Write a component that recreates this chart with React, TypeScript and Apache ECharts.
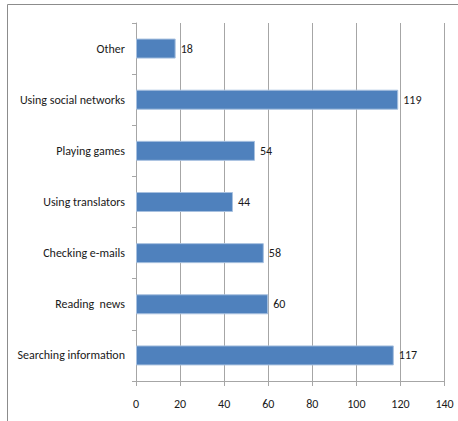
import React, { useEffect, useRef } from "react";
import * as echarts from "echarts";

const categories = [
  "Searching information",
  "Reading  news",
  "Checking e-mails",
  "Using translators",
  "Playing games",
  "Using social networks",
  "Other",
];
const values = [117, 60, 58, 44, 54, 119, 18];
const xTicks = { min: 0, max: 140, interval: 20 };

const FONT = "Carlito, Lato, 'Open Sans', sans-serif";

export default function App() {
  const ref = useRef<HTMLDivElement>(null);
  useEffect(() => {
    document.body.style.margin = "0";
    const chart = echarts.init(ref.current!, undefined, { renderer: "svg" });
    chart.setOption({
      animation: false,
      backgroundColor: "#ffffff",
      textStyle: { fontFamily: FONT },
      graphic: [
        { type: "line", shape: { x1: 7.5, y1: 4.5, x2: 458, y2: 4.5 }, style: { stroke: "#8c8c8c", lineWidth: 1 } },
        { type: "line", shape: { x1: 7.5, y1: 4.5, x2: 7.5, y2: 421 }, style: { stroke: "#8c8c8c", lineWidth: 1 } },
      ],
      grid: { left: 136, top: 23, right: 13.5, bottom: 40, containLabel: false },
      xAxis: {
        type: "value",
        min: xTicks.min,
        max: xTicks.max,
        interval: xTicks.interval,
        axisLine: { show: true, lineStyle: { color: "#a6a6a6", width: 1 } },
        axisTick: { show: true, length: 5, lineStyle: { color: "#a6a6a6" } },
        splitLine: { show: true, lineStyle: { color: "#a6a6a6", width: 1 } },
        axisLabel: { color: "#1a1a1a", fontSize: 12, margin: 17, fontFamily: FONT },
      },
      yAxis: {
        type: "category",
        data: categories,
        axisLine: { show: true, lineStyle: { color: "#a6a6a6", width: 1 } },
        axisTick: { show: true, length: 4, alignWithLabel: false, lineStyle: { color: "#a6a6a6" } },
        axisLabel: { color: "#1a1a1a", fontSize: 12, margin: 11, fontFamily: FONT },
        splitLine: { show: false },
      },
      series: [
        {
          type: "bar",
          data: values,
          barWidth: 20,
          itemStyle: { color: "#4f81bd", borderColor: "#a7c0df", borderWidth: 1 },
          label: {
            show: true,
            position: "right",
            distance: 5,
            color: "#1a1a1a",
            fontSize: 12,
            fontFamily: FONT,
          },
        },
      ],
    });
    return () => chart.dispose();
  }, []);
  return <div ref={ref} style={{ width: 458, height: 421 }} />;
}
